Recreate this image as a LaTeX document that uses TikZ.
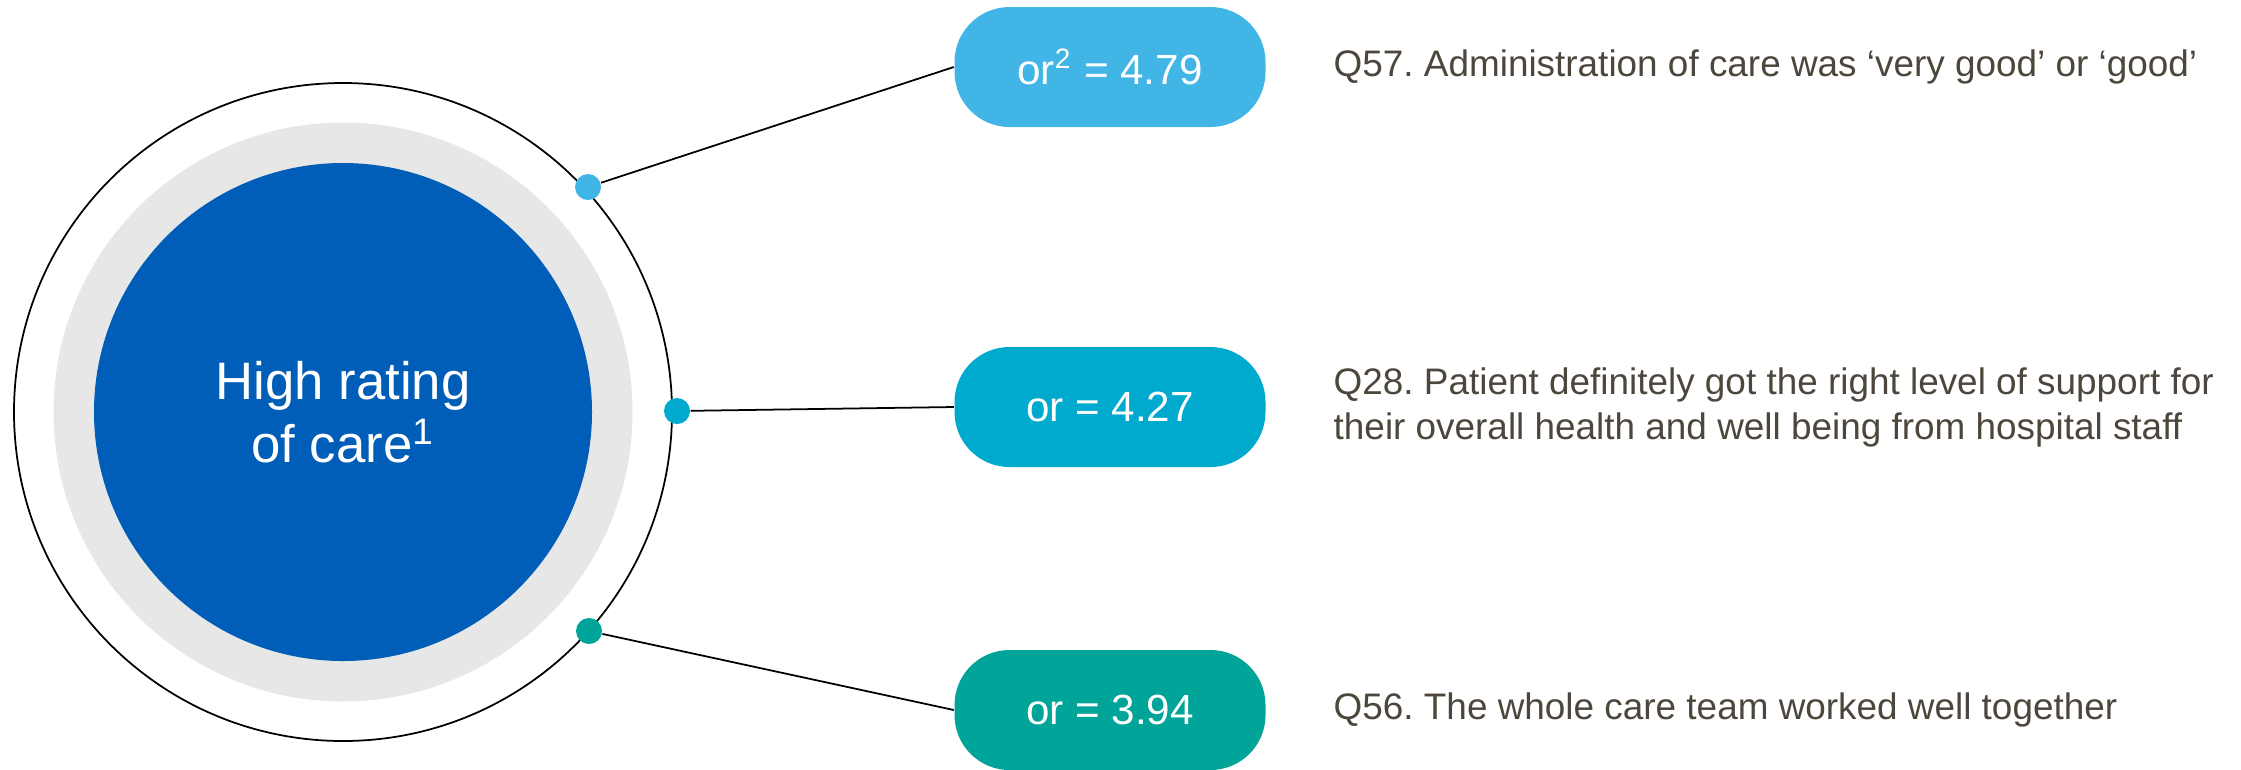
\documentclass[tikz,border=0pt]{standalone}
\usepackage{fontspec}
\setmainfont{Liberation Sans}
\usetikzlibrary{positioning}
\definecolor{NHSBlue}{RGB}{0,94,184}
\definecolor{LightBlue}{RGB}{65,182,230}
\definecolor{AquaBlue}{RGB}{0,169,206}
\definecolor{AquaGreen}{RGB}{0,164,153}
\definecolor{RingGrey}{RGB}{231,231,231}
\definecolor{QText}{RGB}{77,70,60}
\frenchspacing

\begin{document}
\begin{tikzpicture}[x=0.1mm, y=-0.1mm]
  \tikzstyle{pill} = [rectangle, rounded corners=5.5mm, minimum width=31.1mm,
    minimum height=12mm, text=white, font=\fontsize{12}{14}\selectfont]
  \tikzstyle{dot} = [circle, inner sep=0pt, minimum size=2.6mm]
  \tikzstyle{question} = [anchor=west, inner sep=0pt, align=left, text=QText,
    font=\fontsize{10.5}{12.8}\selectfont]
  \tikzstyle{link} = [draw=black, line width=0.5pt]

  \useasboundingbox (0,0) rectangle (2241,769);

  % central circle
  \node[circle, draw=black, line width=0.5pt, inner sep=0pt, outer sep=0pt,
    minimum size=65.8mm] (ring) at (343,412) {};
  \node[circle, fill=RingGrey, inner sep=0pt, minimum size=57.9mm] (grey) at (ring) {};
  \node[circle, fill=NHSBlue, inner sep=0pt, minimum size=49.8mm, text=white,
    align=center, font=\fontsize{15}{18}\selectfont] (care) at (ring)
    {High rating\\of care\textsuperscript{1}};

  % odds ratios
  \node[pill, fill=LightBlue] (or57) at (1110,67) {or\textsuperscript{2} = 4.79};
  \node[pill, fill=AquaBlue] (or28) at (1110,407) {or = 4.27};
  \node[pill, fill=AquaGreen] (or56) at (1110,710) {or = 3.94};

  \node[dot, fill=LightBlue] (d57) at (588,187) {};
  \node[dot, fill=AquaBlue] (d28) at (677,411) {};
  \node[dot, fill=AquaGreen] (d56) at (589,631) {};

  \draw[link] (d57) -- (or57.west);
  \draw[link] (d28) -- (or28.west);
  \draw[link] (d56) -- (or56.west);

  % questions
  \node[question] (q57) at (1333,67) {Q57. Administration of care was ‘very good’ or ‘good’};
  \node[question] (q28) at (1333,407) {Q28. Patient definitely got the right level of support for\\their overall health and well being from hospital staff};
  \node[question] (q56) at (1333,710) {Q56. The whole care team worked well together};
\end{tikzpicture}
\end{document}
